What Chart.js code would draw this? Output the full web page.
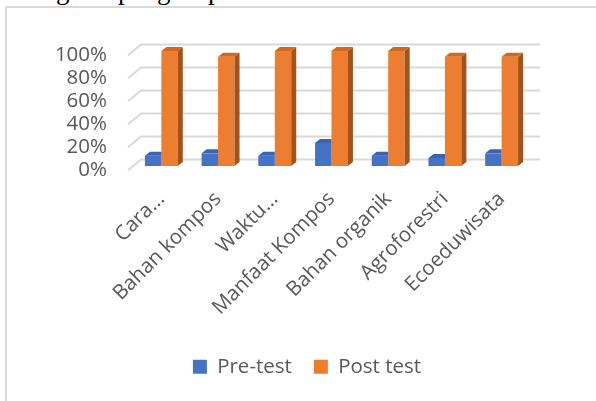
<!DOCTYPE html>
<html>
<head>
<meta charset="utf-8">
<script src="https://cdn.jsdelivr.net/npm/chart.js@4/dist/chart.umd.min.js"></script>
<style>
html, body { margin: 0; padding: 0; background: #fff; }
body { width: 596px; height: 401px; position: relative; overflow: hidden; }
#frame { position: absolute; left: 5px; top: 6px; width: 640px; height: 440px; border-left: 2px solid #d9d9d9; border-top: 2px solid #d9d9d9; }
#caption { position: absolute; top: -23px; left: 0; font: 27px/27px "Liberation Serif", serif; color: #000; white-space: nowrap; }
#caption span { position: absolute; top: 0; }
#chart { position: absolute; left: 0; top: 0; }
</style>
</head>
<body>
<div id="caption"><span style="left:17px">Diagram</span><span style="left:118px">pengaruh</span><span style="left:208px">pelatihan</span></div>
<div id="frame"></div>
<canvas id="chart" width="596" height="401"></canvas>
<script>
// Datos
const categories = ['Cara...', 'Bahan kompos', 'Waktu...', 'Manfaat Kompos', 'Bahan organik', 'Agroforestri', 'Ecoeduwisata'];
const preTest = [9, 11, 9, 20, 9, 7, 11];
const postTest = [100, 95, 100, 100, 100, 95, 95];
const yTicks = [0, 20, 40, 60, 80, 100];
const seriesNames = ['Pre-test', 'Post test'];

const colors = ['#4472C4', '#ED7D31'];
const topColors = ['#3A64B0', '#D2691F'];
const sideColors = ['#2F5597', '#A4521B'];
const textColor = '#595959';
const font = { family: 'Open Sans', size: 20.5 };

// profundidad de las barras 3D
const DX = 5, DY = 4;

// Pared del fondo y piso en perspectiva
const grid3d = {
    id: 'grid3d',
    beforeDatasetsDraw(chart) {
        const { ctx, chartArea, scales: { y } } = chart;
        ctx.save();
        ctx.strokeStyle = '#d9d9d9';
        ctx.lineWidth = 2;
        yTicks.forEach(v => {
            const yb = y.getPixelForValue(v) - 6.5;
            ctx.beginPath();
            ctx.moveTo(chartArea.left - 5, yb + 10.7);
            ctx.lineTo(chartArea.left + 8, yb);
            ctx.lineTo(chartArea.right + 10, yb);
            ctx.stroke();
        });
        ctx.restore();
    }
};

// Caras superior y lateral de cada barra
const bars3d = {
    id: 'bars3d',
    afterDatasetsDraw(chart) {
        const ctx = chart.ctx;
        ctx.save();
        chart.data.datasets.forEach((ds, i) => {
            const meta = chart.getDatasetMeta(i);
            const last = i === chart.data.datasets.length - 1;
            meta.data.forEach(bar => {
                const { x, y, base, width } = bar.getProps(['x', 'y', 'base', 'width'], true);
                const l = x - width / 2, r = x + width / 2;
                ctx.fillStyle = topColors[i];
                ctx.beginPath();
                ctx.moveTo(l, y);
                ctx.lineTo(l + DX, y - DY);
                ctx.lineTo(last ? r + DX : r, y - DY);
                ctx.lineTo(r, y);
                ctx.closePath();
                ctx.fill();
                if (last) {
                    ctx.fillStyle = sideColors[i];
                    ctx.beginPath();
                    ctx.moveTo(r, y);
                    ctx.lineTo(r + DX, y - DY);
                    ctx.lineTo(r + DX, base - DY);
                    ctx.lineTo(r, base);
                    ctx.closePath();
                    ctx.fill();
                }
            });
        });
        ctx.restore();
    }
};

const ctx = document.getElementById('chart').getContext('2d');
new Chart(ctx, {
    type: 'bar',
    data: {
        labels: categories,
        datasets: [
            { label: seriesNames[0], data: preTest, backgroundColor: colors[0] },
            { label: seriesNames[1], data: postTest, backgroundColor: colors[1] }
        ]
    },
    options: {
        responsive: false,
        animation: false,
        layout: { padding: { top: 51, left: 18, right: 0, bottom: 14 } },
        datasets: { bar: { categoryPercentage: 0.58, barPercentage: 1 } },
        plugins: {
            legend: {
                position: 'bottom',
                labels: { boxWidth: 14, boxHeight: 14, padding: 22, color: textColor, font: font }
            },
            tooltip: { enabled: false }
        },
        scales: {
            x: {
                grid: { display: false },
                border: { display: false },
                ticks: { color: textColor, font: font, minRotation: 45, maxRotation: 45, autoSkip: false, padding: 13 },
                afterFit(s) {
                    const lg = s.chart.legend ? s.chart.legend.height : 52.5;
                    s.height = s.chart.height - 166 - 14 - lg;
                }
            },
            y: {
                min: 0,
                max: 100,
                grid: { display: false, drawTicks: false },
                border: { display: false },
                ticks: {
                    stepSize: 20,
                    autoSkip: false,
                    color: textColor,
                    font: font,
                    padding: 26,
                    labelOffset: 4,
                    callback: v => v + '%'
                },
                afterFit(s) { s.width = 115; }
            },
            yRight: {
                position: 'right',
                grid: { display: false, drawTicks: false },
                border: { display: false },
                ticks: { display: false },
                afterFit(s) { s.width = 66; }
            }
        }
    },
    plugins: [grid3d, bars3d]
});
</script>
</body>
</html>
